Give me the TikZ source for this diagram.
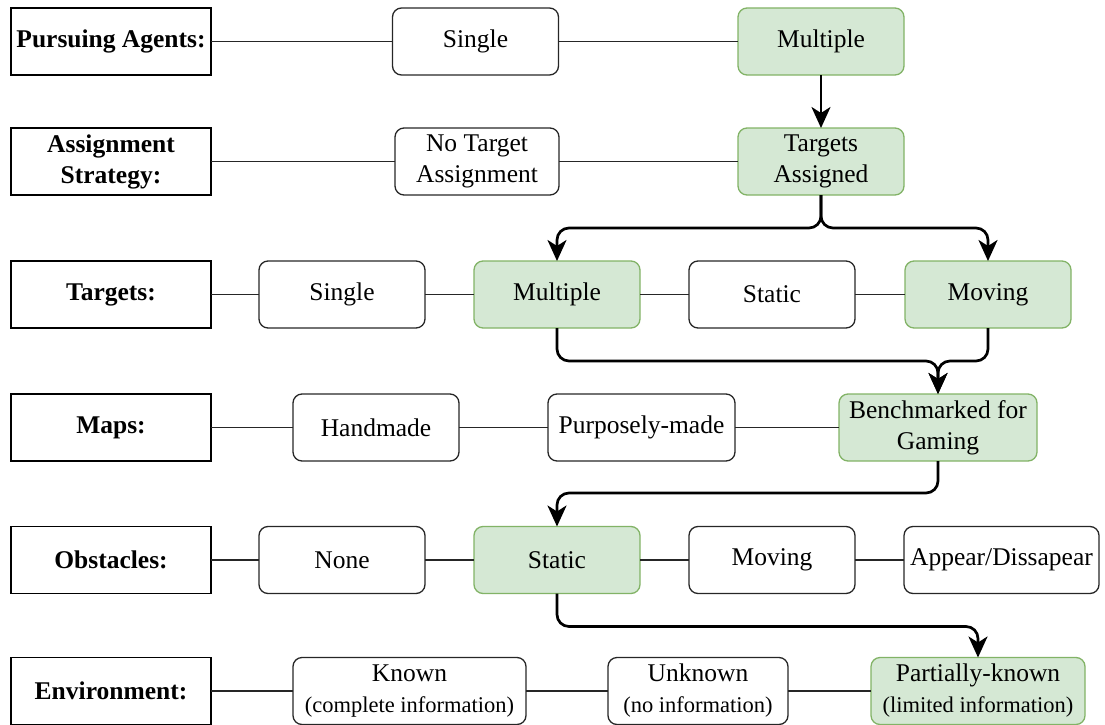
\documentclass[tikz,border=0pt]{standalone}
\usepackage{fontspec}
\setmainfont{Liberation Serif}
\usetikzlibrary{arrows.meta}
\definecolor{selfill}{RGB}{213,232,212}
\definecolor{seldraw}{RGB}{130,179,102}
\newcommand{\subtext}{\fontsize{22.5}{27}\selectfont}

\begin{document}
\begin{tikzpicture}[x=1pt, y=-1pt,
    every node/.style={inner sep=0pt, outer sep=0pt, font=\fontsize{25.5}{31}\selectfont, align=center},
    head/.style={draw=black, line width=1.3pt, minimum width=200, minimum height=67, font=\fontsize{25.5}{31}\selectfont\bfseries},
    opt/.style={draw=black!85, line width=1.3pt, rounded corners=9pt, minimum width=166, minimum height=67},
    sel/.style={opt, draw=seldraw, fill=selfill},
    link/.style={line width=1.3pt, black!85},
    flow/.style={line width=2.7pt, rounded corners=12pt, -{Stealth[length=21pt, width=19pt, inset=6pt]}}]
    \useasboundingbox (0,0) rectangle (1105,725);

    % Pursuing agents
    \node[head] (pa) at (111, 41.5) {Pursuing Agents:};
    \node[opt] (pa1) at (475.5, 41.5) {Single};
    \node[sel] (pa2) at (821, 41.5) {Multiple};

    % Assignment strategy
    \node[head] (as) at (111, 161.5) {Assignment\\Strategy:};
    \node[opt, minimum width=164] (as1) at (477, 161.5) {No Target\\Assignment};
    \node[sel] (as2) at (821, 161.5) {Targets\\Assigned};

    % Targets
    \node[head] (tg) at (111, 294.5) {Targets:};
    \node[opt] (tg1) at (342, 294.5) {Single};
    \node[sel] (tg2) at (557, 294.5) {Multiple};
    \node[opt] (tg3) at (772, 294.5) {Static};
    \node[sel] (tg4) at (988, 294.5) {Moving};

    % Maps
    \node[head] (mp) at (111, 427.5) {Maps:};
    \node[opt] (mp1) at (376, 427.5) {Handmade};
    \node[opt, minimum width=187] (mp2) at (641.5, 427.5) {Purposely-made};
    \node[sel, minimum width=198] (mp3) at (938, 427.5) {Benchmarked for\\Gaming};

    % Obstacles
    \node[head] (ob) at (111, 560) {Obstacles:};
    \node[opt] (ob1) at (342, 560) {None};
    \node[sel] (ob2) at (557, 560) {Static};
    \node[opt] (ob3) at (772, 560) {Moving};
    \node[opt, minimum width=195] (ob4) at (1001.5, 560) {Appear/Dissapear};

    % Environment
    \node[head] (en) at (111, 691) {Environment:};
    \node[opt, minimum width=233] (en1) at (409.5, 691) {Known\\{\subtext (complete information)}};
    \node[opt, minimum width=180] (en2) at (698, 691) {Unknown\\{\subtext (no information)}};
    \node[sel, minimum width=214] (en3) at (978, 691) {Partially-known\\{\subtext (limited information)}};

    % option lines
    \draw[link] (pa) -- (pa1) -- (pa2);
    \draw[link] (as) -- (as1) -- (as2);
    \draw[link] (tg) -- (tg1) -- (tg2) -- (tg3) -- (tg4);
    \draw[link] (mp) -- (mp1) -- (mp2) -- (mp3);
    \draw[link] (ob) -- (ob1) -- (ob2) -- (ob3) -- (ob4);
    \draw[link] (en) -- (en1) -- (en2) -- (en3);

    % chosen path
    \draw[flow] (pa2) -- (as2);
    \draw[flow] (as2.south) -- ++(0,33) -| (tg2.north);
    \draw[flow] (as2.south) -- ++(0,33) -| (tg4.north);
    \draw[flow] (tg2.south) -- ++(0,33) -| (mp3.north);
    \draw[flow] (tg4.south) -- ++(0,33) -| (mp3.north);
    \draw[flow] (mp3.south) -- ++(0,32) -| (ob2.north);
    \draw[flow] (ob2.south) -- ++(0,33) -| (en3.north);
\end{tikzpicture}
\end{document}
